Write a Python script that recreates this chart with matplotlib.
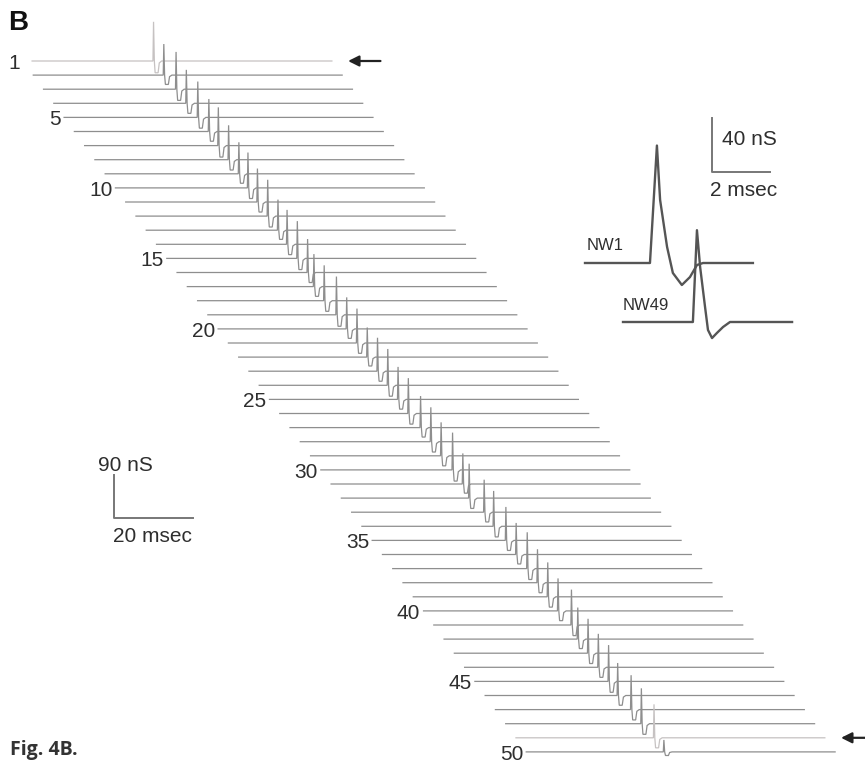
import matplotlib
matplotlib.use("Agg")
import matplotlib.pyplot as plt
import numpy as np

plt.rcParams["font.family"] = ["Liberation Sans", "DejaVu Sans"]

# ---- data ----
# 50 conductance traces, spike latency (ms from trace start) and peak (nS)
trace_numbers = [1, 5, 10, 15, 20, 25, 30, 35, 40, 45, 50]
latency_ms = [32.9, 32.9, 33.4, 33.4, 33.7, 33.9, 33.7, 33.7, 33.7, 33.4,
              33.2, 33.2, 33.2, 32.9, 32.9, 32.9, 31.9, 31.9, 32.4, 32.4,
              32.4, 32.4, 32.4, 32.4, 32.4, 32.4, 32.9, 32.9, 32.9, 33.2,
              33.2, 32.2, 33.4, 33.2, 33.7, 33.7, 33.9, 33.9, 33.9, 33.9,
              34.7, 33.7, 33.7, 33.7, 33.7, 33.4, 34.2, 34.2, 34.8, 34.7]
peak_ns = [82, 65, 78, 70, 75, 68, 80, 72, 66, 74,
           70, 76, 64, 72, 78, 70, 68, 74, 80, 66,
           72, 62, 70, 76, 68, 74, 66, 72, 70, 78,
           64, 72, 68, 74, 70, 66, 76, 70, 72, 68,
           74, 66, 72, 70, 76, 68, 72, 74, 70, 25]
highlighted = [1, 49]

# spike shape used on the slow time base (ms after onset, fraction of peak)
spike_t = [0.0, 0.15, 0.35, 0.55, 1.3, 1.6, 2.2]
spike_v = [0.0, 1.0, 0.0, -0.3, -0.3, -0.05, 0.0]

# inset: expanded NW1 and NW49 waveforms (ms, nS)
nw1_t = [0.0, 2.24, 2.48, 2.59, 2.83, 3.03, 3.34, 3.62, 3.86, 4.07, 5.79]
nw1_v = [0.0, 0.0, 87.0, 46.7, 11.9, -7.4, -16.3, -10.4, -1.5, 0.0, 0.0]
nw49_t = [0.0, 2.41, 2.55, 2.66, 2.83, 2.93, 3.07, 3.24, 3.45, 3.69, 5.83]
nw49_v = [0.0, 0.0, 68.0, 40.7, 11.0, -5.9, -11.9, -8.1, -3.7, 0.0, 0.0]

# ---- layout ----
PX_MS = 3.95      # pixels per ms on the main time base
PX_NS = 0.478     # pixels per nS on the main scale
trace_len = 78.2
first_start = 2.3  # trace 1 is clipped at the start
dx = 10.27 / PX_MS
dy = 14.1 / PX_NS
W, H = 865, 764
x0, y0 = 23, 61

fig = plt.figure(figsize=(W / 100, H / 100), dpi=100)
ax = fig.add_axes([0, 0, 1, 1])
ax.set_xlim(-x0 / PX_MS, (W - x0) / PX_MS)
ax.set_ylim(-(H - y0) / PX_NS, y0 / PX_NS)
ax.axis("off")

for i in range(50):
    n = i + 1
    lat = latency_ms[i]
    amp = peak_ns[i]
    start = first_start if n == 1 else 0.0
    t = [start, lat] + [lat + s for s in spike_t[1:]] + [trace_len]
    v = [0.0, 0.0] + [amp * s for s in spike_v[1:]] + [0.0]
    t = np.array(t) + i * dx
    v = np.array(v) - i * dy
    col = "#c6c2c2" if n in highlighted else "#8e8e8e"
    ax.plot(t, v, color=col, lw=0.9, solid_joinstyle="miter")
    if n in trace_numbers:
        ax.text(i * dx - 0.8, -i * dy - 5, str(n), ha="right", va="center",
                fontsize=15, color="#2e2e2e")

# arrows marking traces 1 and 49
for n in highlighted:
    i = n - 1
    xe = i * dx + trace_len
    ax.annotate("", xy=(xe + 3.4, -i * dy), xytext=(xe + 13, -i * dy),
                arrowprops=dict(arrowstyle="-|>", color="#222222", lw=1.6,
                                mutation_scale=16))

# main scale bar: 90 nS, 20 msec
sb_x = (114 - x0) / PX_MS
sb_y = -(518 - y0) / PX_NS
ax.plot([sb_x, sb_x, sb_x + 20], [sb_y + 90, sb_y, sb_y], color="#777777", lw=1.4)
ax.text(sb_x - 4.0, sb_y + 90 + 20, "90 nS", ha="left", va="center",
        fontsize=15, color="#2e2e2e")
ax.text(sb_x - 0.3, sb_y - 38, "20 msec", ha="left", va="center",
        fontsize=15, color="#2e2e2e")

ax.text(8 / W, 1 - 23 / H, "B", transform=fig.transFigure, ha="left",
        va="center", fontsize=20, fontweight="bold", color="#111111")
fig.text(10 / W, 1 - 750 / H, "Fig. 4B.", ha="left", va="center",
         fontsize=14, fontweight="bold", color="#333333",
         family=["Open Sans", "DejaVu Sans"])

# ---- inset ----
IPX_MS = 29.0
IPX_NS = 1.35
ix0, iy0 = 585, 263
il, ir, it, ib = 575, 800, 100, 350
inset = fig.add_axes([il / W, 1 - ib / H, (ir - il) / W, (ib - it) / H])
inset.set_xlim((il - ix0) / IPX_MS, (ir - ix0) / IPX_MS)
inset.set_ylim(-(ib - iy0) / IPX_NS, (iy0 - it) / IPX_NS)
inset.axis("off")
inset.patch.set_alpha(0)

nw49_dx = 38 / IPX_MS
nw49_dy = -59 / IPX_NS
inset.plot(nw1_t, nw1_v, color="#555555", lw=1.7)
inset.plot(np.array(nw49_t) + nw49_dx, np.array(nw49_v) + nw49_dy,
           color="#555555", lw=1.7)
inset.text(0.07, 12.6, "NW1", ha="left", va="center", fontsize=12, color="#2e2e2e")
inset.text(nw49_dx, nw49_dy + 12, "NW49", ha="left", va="center",
           fontsize=12, color="#2e2e2e")

isb_x = (712 - ix0) / IPX_MS
isb_y = (iy0 - 172) / IPX_NS
inset.plot([isb_x, isb_x, isb_x + 2], [isb_y + 40, isb_y, isb_y],
           color="#777777", lw=1.4)
inset.text(isb_x + 0.34, isb_y + 24, "40 nS", ha="left", va="center",
           fontsize=15, color="#2e2e2e")
inset.text(isb_x - 0.07, isb_y - 13.5, "2 msec", ha="left", va="center",
           fontsize=15, color="#2e2e2e")

fig.savefig("out.png", dpi=100, facecolor="white")
